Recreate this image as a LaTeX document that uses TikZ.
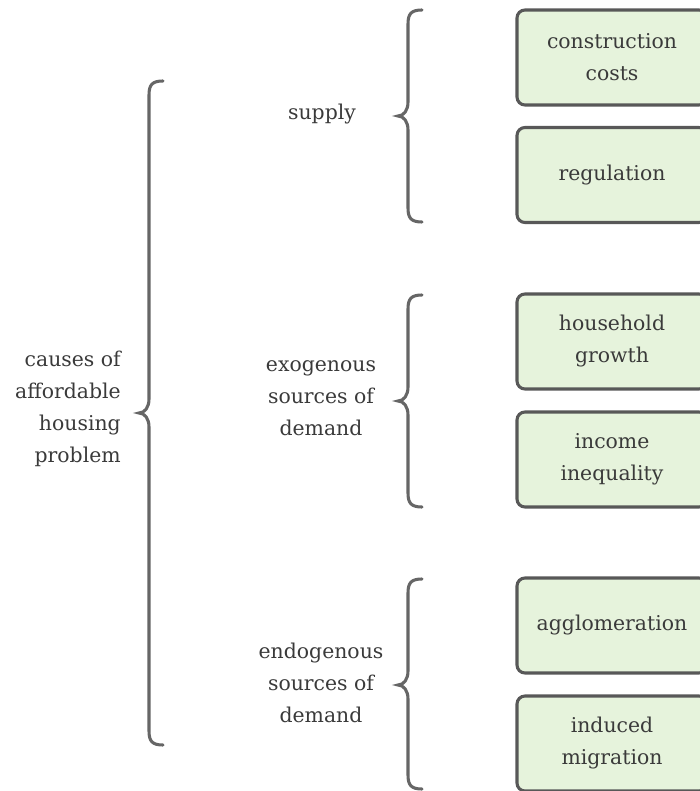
\documentclass[tikz,border=0pt]{standalone}
\usepackage{fontspec}
\setmainfont{DejaVu Serif}
\definecolor{txt}{HTML}{3A3A3A}
\definecolor{bracec}{HTML}{666666}
\definecolor{boxline}{HTML}{585858}
\definecolor{boxfill}{HTML}{E6F3DC}
\newcommand{\bracepath}[4]{% xline, top, bottom, tip
  \draw[bracestyle] ({#1+14},#2) .. controls ({#1+3},#2) and (#1,{#2+4}) .. (#1,{#2+14})
    -- (#1,{#4-14}) .. controls (#1,{#4-6}) and ({#1-4},#4) .. ({#1-10},#4)
    .. controls ({#1-4},#4) and (#1,{#4+6}) .. (#1,{#4+14})
    -- (#1,{#3-14}) .. controls (#1,{#3-4}) and ({#1+3},#3) .. ({#1+14},#3);}
\begin{document}
\begin{tikzpicture}[x=0.75pt,y=-0.75pt,
  every node/.style={text=txt,font=\fontsize{15.3pt}{24pt}\selectfont},
  bracestyle/.style={draw=bracec,line width=2.3pt,line cap=round},
  itembox/.style={draw=boxline,fill=boxfill,line width=2.3pt,rounded corners=6pt,
    minimum width=142.5pt,minimum height=71.25pt,inner sep=0pt,align=center},
  lbl/.style={align=center,inner sep=0pt}]
\useasboundingbox (0,0) rectangle (699,791);
% braces
\bracepath{149}{81}{745}{413}
\bracepath{408}{10}{222}{116}
\bracepath{408}{295}{507}{401}
\bracepath{408}{579}{789}{685}
% labels
\node[lbl,align=right,anchor=east] (main) at (121,409) {causes of\\affordable\\housing\\problem};
\node[lbl] (supply) at (322,114) {supply};
\node[lbl] (exo) at (321,398) {exogenous\\sources of\\demand};
\node[lbl] (endo) at (321,683) {endogenous\\sources of\\demand};
% boxes
\node[itembox] (b1) at (612,57.5) {construction\\costs};
\node[itembox] (b2) at (612,175) {regulation};
\node[itembox] (b3) at (612,341.5) {household\\growth};
\node[itembox] (b4) at (612,459.5) {income\\inequality};
\node[itembox] (b5) at (612,625.5) {agglomeration};
\node[itembox] (b6) at (612,743.5) {induced\\migration};
\end{tikzpicture}
\end{document}
